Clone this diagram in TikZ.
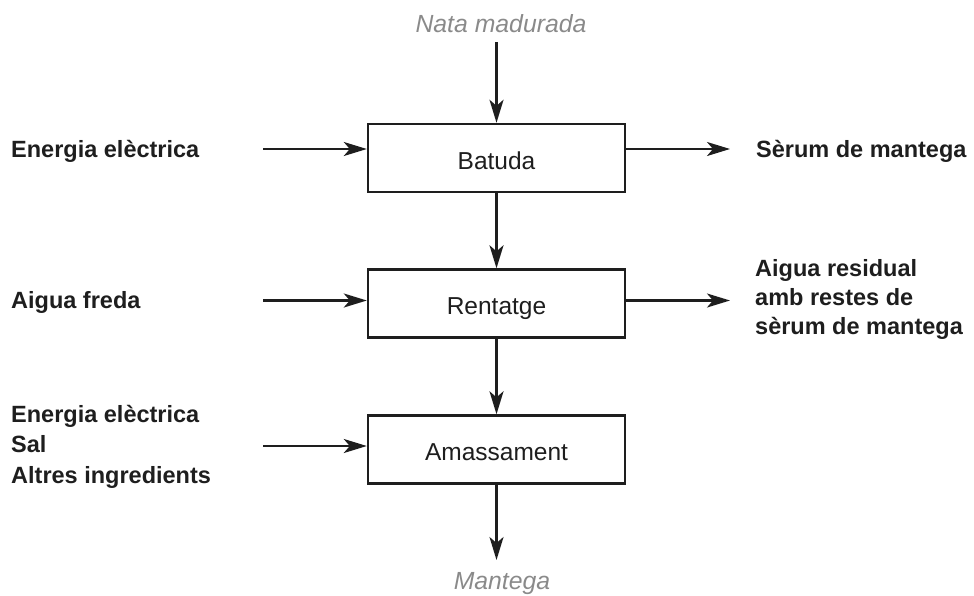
\documentclass[tikz,border=0pt]{standalone}
\usepackage{fontspec}
\setmainfont{Liberation Sans}
\usetikzlibrary{arrows.meta,calc}
\definecolor{ink}{HTML}{1E1E1E}
\definecolor{greytext}{HTML}{8A8A8A}
\begin{document}
\begin{tikzpicture}[x=1pt,y=-1pt,
  procbox/.style={draw=ink,line width=2.4pt,rectangle,minimum width=257pt,minimum height=68pt,
    inner sep=0pt,text height=22pt,text depth=0pt,font=\fontsize{24.5}{28}\selectfont,text=ink},
  flow/.style={draw=ink,line width=2.2pt,-{Stealth[length=23pt,width=14pt,inset=6pt]}},
  sidelabel/.style={inner sep=0pt,font=\bfseries\fontsize{23.5}{30}\selectfont,text=ink,align=left},
  endlabel/.style={inner sep=0pt,font=\itshape\fontsize{24.8}{28}\selectfont,text=greytext}]
\useasboundingbox (0,0) rectangle (974,595);

% process steps
\node[procbox] (batuda) at (496.5,158) {Batuda};
\node[procbox] (rentatge) at (496.5,303.5) {Rentatge};
\node[procbox] (amassament) at (496.5,449.5) {Amassament};

% product flow
\node[endlabel,anchor=base] (nata) at (501,32) {Nata madurada};
\node[endlabel,anchor=base] (mantega) at (502,589) {Mantega};
\coordinate (nataend) at (496.5,42);
\coordinate (mantegaend) at (496.5,560);
\draw[flow] (nataend) -- (batuda.north);
\draw[flow] (batuda.south) -- (rentatge.north);
\draw[flow] (rentatge.south) -- (amassament.north);
\draw[flow] (amassament.south) -- (mantegaend);

% inputs (multi-line labels are placed by the baseline of their last line)
\node[sidelabel,anchor=base west] (in1) at (11,157) {Energia elèctrica};
\node[sidelabel,anchor=base west] (in2) at (11,308) {Aigua freda};
\node[sidelabel,anchor=base west,font=\bfseries\fontsize{23.5}{30.5}\selectfont] (in3) at (11,483) {Energia elèctrica\\Sal\\Altres ingredients};
\coordinate (in1s) at (263,149);
\coordinate (in2s) at (263,300.5);
\coordinate (in3s) at (263,446);
\draw[flow] (in1s) -- (in1s -| batuda.west);
\draw[flow] (in2s) -- (in2s -| rentatge.west);
\draw[flow] (in3s) -- (in3s -| amassament.west);

% outputs
\node[sidelabel,anchor=base west] (out1) at (756,157) {Sèrum de mantega};
\node[sidelabel,anchor=base west,font=\bfseries\fontsize{23.5}{29}\selectfont] (out2) at (755,334) {Aigua residual\\amb restes de\\sèrum de mantega};
\coordinate (out1e) at (730,149);
\coordinate (out2e) at (730,300.5);
\draw[flow] (out1e -| batuda.east) -- (out1e);
\draw[flow] (out2e -| rentatge.east) -- (out2e);
\end{tikzpicture}
\end{document}
